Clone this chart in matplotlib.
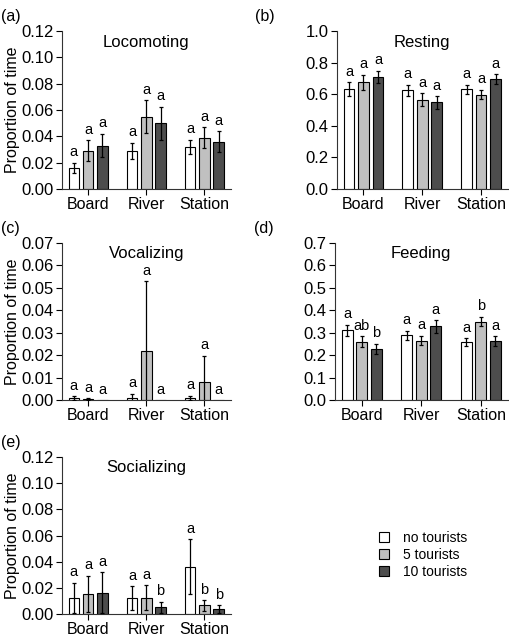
import matplotlib
matplotlib.use("Agg")
import matplotlib.pyplot as plt
from matplotlib.patches import Patch
import numpy as np

plt.rcParams['font.family'] = ['Liberation Sans', 'DejaVu Sans']

sites = ['Board', 'River', 'Station']
groups = ['no tourists', '5 tourists', '10 tourists']
colors = ['#ffffff', '#c0c0c0', '#4d4d4d']

# mean / error / significance letters, rows = group, cols = site
loco_mean = [[0.016, 0.029, 0.032], [0.029, 0.055, 0.039], [0.033, 0.050, 0.036]]
loco_err = [[0.004, 0.006, 0.0055], [0.008, 0.0125, 0.008], [0.009, 0.0125, 0.008]]
loco_lab = [['a', 'a', 'a'], ['a', 'a', 'a'], ['a', 'a', 'a']]

rest_mean = [[0.632, 0.625, 0.630], [0.675, 0.565, 0.598], [0.708, 0.548, 0.695]]
rest_err = [[0.043, 0.035, 0.03], [0.048, 0.04, 0.03], [0.04, 0.04, 0.03]]
rest_lab = [['a', 'a', 'a'], ['a', 'a', 'a'], ['a', 'a', 'a']]

voc_mean = [[0.0008, 0.001, 0.0008], [0.0004, 0.022, 0.008], [0.0, 0.0, 0.0]]
voc_err = [[0.0008, 0.0018, 0.001], [0.0004, 0.031, 0.0118], [0.0, 0.0, 0.0]]
voc_lab = [['a', 'a', 'a'], ['a', 'a', 'a'], ['a', 'a', 'a']]

feed_mean = [[0.31, 0.288, 0.258], [0.26, 0.265, 0.35], [0.228, 0.328, 0.262]]
feed_err = [[0.025, 0.02, 0.017], [0.025, 0.022, 0.022], [0.022, 0.028, 0.022]]
feed_lab = [['a', 'a', 'a'], ['ab', 'a', 'b'], ['b', 'a', 'a']]

soc_mean = [[0.0124, 0.0122, 0.036], [0.0152, 0.0124, 0.0065], [0.0162, 0.0051, 0.0035]]
soc_err = [[0.0114, 0.009, 0.021], [0.014, 0.0094, 0.004], [0.0157, 0.0043, 0.003]]
soc_lab = [['a', 'a', 'a'], ['a', 'a', 'b'], ['a', 'b', 'b']]

W, H = 510, 639
fig = plt.figure(figsize=(W / 100, H / 100), dpi=100)


def add_ax(l, r, t, b):
    return fig.add_axes([l / W, 1 - b / H, (r - l) / W, (b - t) / H])


def panel(ax, mean, err, lab, title, ymax, step, fmt, letter, lx, ylabel=True):
    x = np.arange(len(sites))
    off = 0.246
    w = 0.183
    for i in range(3):
        xs = x + (i - 1) * off
        m = np.array(mean[i])
        e = np.array(err[i])
        ax.bar(xs, m, w, color=colors[i], edgecolor='black', linewidth=0.8, zorder=2)
        show = e > 0
        ax.errorbar(xs[show], m[show], yerr=e[show], fmt='none', ecolor='black',
                    elinewidth=0.9, capsize=1.5, capthick=0.9, zorder=3)
        for xx, mm, ee, ll in zip(xs, m, e, lab[i]):
            ax.annotate(ll, (xx, mm + ee), xytext=(0, 2.5), textcoords='offset points',
                        ha='center', va='bottom', fontsize=10.5)
    ticks = np.arange(0, ymax + step / 2, step)
    ax.set_xlim(-0.45, 2.457)
    ax.set_ylim(0, ymax)
    ax.set_yticks(ticks)
    ax.set_yticklabels([fmt.format(v) for v in ticks])
    ax.set_xticks(x)
    ax.set_xticklabels(sites)
    for s in ['top', 'right']:
        ax.spines[s].set_visible(False)
    for s in ['left', 'bottom']:
        ax.spines[s].set_linewidth(0.8)
        ax.spines[s].set_color('#333333')
    ax.tick_params(axis='both', direction='out', length=4, width=0.8, pad=2)
    ax.tick_params(axis='y', labelsize=12)
    ax.tick_params(axis='x', labelsize=11.5)
    ax.text(1, ymax * 0.93, title, ha='center', va='center', fontsize=12)
    if ylabel:
        ax.set_ylabel('Proportion of time', fontsize=11.5, labelpad=1)
    ax.text(lx, 1.09, letter, transform=ax.transAxes, fontsize=11.5, ha='left', va='center')


ax_a = add_ax(62, 231, 31, 189)
panel(ax_a, loco_mean, loco_err, loco_lab, 'Locomoting', 0.12, 0.02, '{:.2f}', '(a)', -0.36)

ax_b = add_ax(337, 508, 31, 189)
panel(ax_b, rest_mean, rest_err, rest_lab, 'Resting', 1.0, 0.2, '{:.1f}', '(b)', -0.48, ylabel=False)

ax_c = add_ax(62, 231, 243, 400)
panel(ax_c, voc_mean, voc_err, voc_lab, 'Vocalizing', 0.07, 0.01, '{:.2f}', '(c)', -0.36)

ax_d = add_ax(335, 508, 243, 400)
panel(ax_d, feed_mean, feed_err, feed_lab, 'Feeding', 0.7, 0.1, '{:.1f}', '(d)', -0.47, ylabel=False)

ax_e = add_ax(62, 231, 457, 614)
panel(ax_e, soc_mean, soc_err, soc_lab, 'Socializing', 0.12, 0.02, '{:.2f}', '(e)', -0.36)

handles = [Patch(facecolor=c, edgecolor='black', linewidth=0.8) for c in colors]
fig.legend(handles, groups, loc='center left', bbox_to_anchor=(379 / W, 1 - 555 / H),
           frameon=False, fontsize=10, handlelength=0.75, handleheight=0.75,
           handletextpad=1.0, labelspacing=0.22, borderpad=0, borderaxespad=0)

fig.savefig('out.png', dpi=100)
